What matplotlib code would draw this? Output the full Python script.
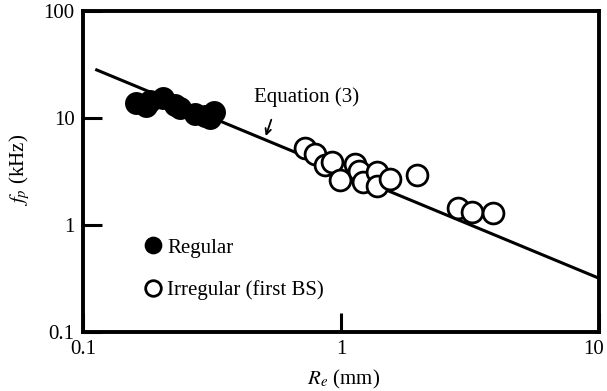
import numpy as np
import matplotlib
matplotlib.use("Agg")
import matplotlib.pyplot as plt
import matplotlib.transforms as mtransforms

plt.rcParams['font.family'] = ['Liberation Serif', 'DejaVu Serif']
plt.rcParams['mathtext.fontset'] = 'stix'

# Data
regular_R = [0.160, 0.175, 0.182, 0.204, 0.227, 0.238, 0.272, 0.297, 0.322, 0.310]
regular_f = [13.8, 12.9, 14.4, 15.4, 13.2, 12.4, 10.9, 10.4, 11.4, 10.0]

irregular_R = [0.724, 0.79, 0.867, 0.92, 0.99, 1.13, 1.17, 1.22, 1.38, 1.38, 1.55, 1.97, 2.84, 3.22, 3.88]
irregular_f = [5.2, 4.6, 3.6, 3.9, 2.65, 3.7, 3.2, 2.5, 3.1, 2.31, 2.7, 2.93, 1.45, 1.32, 1.29]

eq_R = [0.113, 10.0]
eq_coef = 3.18  # f = eq_coef / R
eq_f = [eq_coef / r for r in eq_R]

xticks = [0.1, 1, 10]
xticklabels = ['0.1', '1', '10']
yticks = [0.1, 1, 10, 100]
yticklabels = ['0.1', '1', '10', '100']

FS = 15

fig = plt.figure(figsize=(6.07, 3.91), dpi=100)
ax = fig.add_axes([83/607, 59/391, 516/607, 321/391])

ax.plot(eq_R, eq_f, color='black', lw=2.2, zorder=2)
ax.plot(regular_R, regular_f, 'o', ms=15, mfc='black', mec='black', mew=1.5,
        ls='none', zorder=3, label='Regular')
ax.plot(irregular_R, irregular_f, 'o', ms=15, mfc='white', mec='black', mew=2,
        ls='none', zorder=3, label='Irregular (first BS)')

ax.set_xscale('log')
ax.set_yscale('log')
ax.set_xlim(0.1, 10)
ax.set_ylim(0.1, 100)
ax.set_xticks(xticks)
ax.set_xticklabels(xticklabels)
ax.set_yticks(yticks)
ax.set_yticklabels(yticklabels)
ax.minorticks_off()
ax.tick_params(axis='both', direction='in', length=14, width=2.2, labelsize=FS, pad=6)

# nudge the right-most x tick label inward so it stays on the canvas
last = ax.get_xticklabels()[-1]
last.set_transform(last.get_transform() +
                   mtransforms.ScaledTranslation(-5/100, 0, fig.dpi_scale_trans))

for s in ax.spines.values():
    s.set_linewidth(2.8)

ax.set_xlabel('$R_e$ (mm)', fontsize=FS)
ax.set_ylabel('$f_p$ (kHz)', fontsize=FS)
ax.xaxis.set_label_coords(0.504, -0.112)
ax.yaxis.set_label_coords(-0.099, 0.505)

ax.text(0.738, 15.7, 'Equation (3)', fontsize=FS, ha='center', va='center')
ax.annotate('', xy=(0.507, 6.4), xytext=(0.541, 10.2),
            arrowprops=dict(arrowstyle='->', color='black', lw=1.3))

leg = ax.legend(loc='upper left', bbox_to_anchor=(0.096, 0.325), frameon=False,
                fontsize=FS, markerscale=0.75, handlelength=1.0, handletextpad=0.15,
                labelspacing=1.1, borderpad=0)

fig.savefig('out.png', dpi=100)
